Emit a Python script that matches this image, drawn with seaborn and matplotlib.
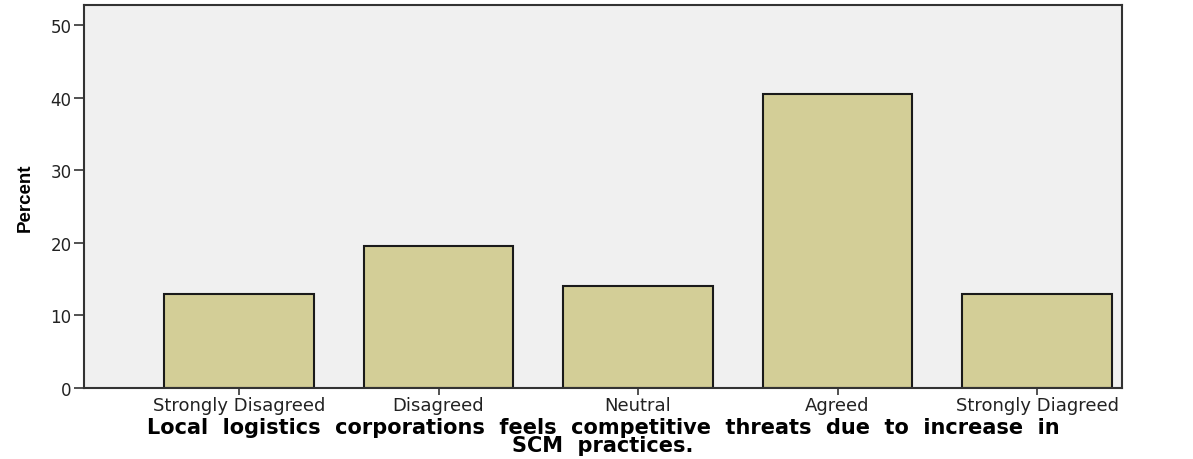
import matplotlib
matplotlib.use('Agg')
import matplotlib.pyplot as plt
import seaborn as sns
import pandas as pd

# Verileri tanımla
categories = ['Strongly Disagreed', 'Disagreed', 'Neutral', 'Agreed', 'Strongly Diagreed']
percents = [13.0, 19.5, 14.0, 40.5, 13.0]

df = pd.DataFrame({'response': categories, 'percent': percents})

sns.set_theme(style='white')
plt.rcParams['font.family'] = ['DejaVu Sans']
plt.rcParams['text.color'] = 'black'
plt.rcParams['axes.labelcolor'] = 'black'
plt.rcParams['xtick.color'] = '#333333'
plt.rcParams['ytick.color'] = '#333333'

fig = plt.figure(figsize=(11.93, 4.6), dpi=100)
ax = fig.add_axes([0.0704, 0.1543, 0.8701, 0.8327])
ax.set_facecolor('#f0f0f0')

sns.barplot(data=df, x='response', y='percent', color='#d3ce97', width=0.75,
            edgecolor='#1a1a1a', linewidth=1.5, saturation=1, ax=ax)

ax.set_xlim(-0.777, 4.426)
ax.set_ylim(0, 52.75)
ax.set_yticks([0, 10, 20, 30, 40, 50])

for side in ['left', 'bottom', 'top', 'right']:
    ax.spines[side].set_visible(True)
    ax.spines[side].set_color('#333333')
    ax.spines[side].set_linewidth(1.5)

ax.tick_params(axis='y', direction='out', length=7, width=1.2,
               labelsize=12, pad=2, left=True, labelcolor='#222222')
ax.tick_params(axis='x', direction='out', length=5, width=1.2,
               labelsize=13, pad=1, bottom=True, labelcolor='#222222')

ax.set_ylabel('Percent', fontsize=13.5, fontweight='bold', labelpad=12,
              family=['Liberation Sans'])
ax.set_xlabel('Local  logistics  corporations  feels  competitive  threats  due  to  increase  in\nSCM  practices.',
              fontsize=15, fontweight='bold', labelpad=2, linespacing=0.88)

fig.savefig('out.png', dpi=100)
